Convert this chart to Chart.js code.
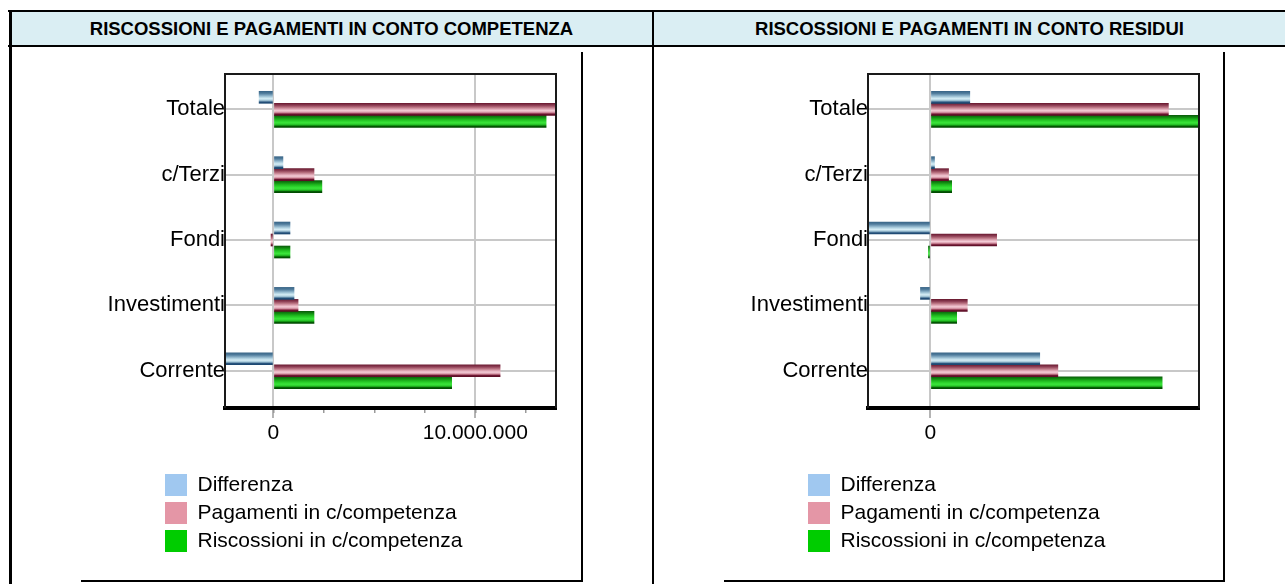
<!DOCTYPE html>
<html>
<head>
<meta charset="utf-8">
<script src="https://cdn.jsdelivr.net/npm/chart.js@4.4.1/dist/chart.umd.min.js"></script>
<style>
  html, body { margin: 0; padding: 0; background: #fff; }
  #page { position: relative; width: 1285px; height: 584px; overflow: hidden; font-family: "Liberation Sans", Arial, sans-serif; }
  .ln { position: absolute; background: #000; }
  .hdrbg { position: absolute; left: 11px; top: 12px; width: 1274px; height: 34px; background: #DAEEF3; }
  .hdr { position: absolute; top: 12px; height: 34px; line-height: 34px; text-align: center; font-weight: bold; font-size: 18.5px; color: #000; white-space: nowrap; }
  canvas { position: absolute; }
</style>
</head>
<body>
<div id="page">
  <div class="hdrbg"></div>
  <div class="hdr" style="left:11px;width:641px;">RISCOSSIONI E PAGAMENTI IN CONTO COMPETENZA</div>
  <div class="hdr" style="left:654px;width:631px;">RISCOSSIONI E PAGAMENTI IN CONTO RESIDUI</div>
  <!-- table borders -->
  <div class="ln" style="left:8px;top:10px;width:1277px;height:2px;"></div>
  <div class="ln" style="left:8px;top:45px;width:1277px;height:2px;"></div>
  <div class="ln" style="left:9px;top:10px;width:3px;height:574px;"></div>
  <div class="ln" style="left:652px;top:10px;width:2px;height:574px;"></div>
  <!-- chart object shadows -->
  <div class="ln" style="left:581px;top:52px;width:2px;height:530px;"></div>
  <div class="ln" style="left:81px;top:580px;width:502px;height:2px;"></div>
  <div class="ln" style="left:1223px;top:52px;width:2px;height:530px;"></div>
  <div class="ln" style="left:724px;top:580px;width:501px;height:2px;"></div>

  <canvas id="cComp" width="480" height="510" style="left:90px;top:56px;width:480px;height:510px;"></canvas>
  <canvas id="cRes" width="480" height="510" style="left:733px;top:56px;width:480px;height:510px;"></canvas>
</div>
<script>
// ---------- DATA ----------
const categories = ['Totale', 'c/Terzi', 'Fondi', 'Investimenti', 'Corrente'];
const seriesNames = ['Differenza', 'Pagamenti in c/competenza', 'Riscossioni in c/competenza'];

// Conto competenza
const compDifferenza   = [-710000, 470000, 820000, 1020000, -2400000];
const compPagamenti    = [14220000, 2010000, -120000, 1220000, 11230000];
const compRiscossioni  = [13510000, 2400000, 820000, 2010000, 8830000];
const compAxisMin = -2400000;
const compAxisMax = 14000000;
const compMajorTicks = [0, 10000000];
const compMajorLabels = ['0', '10.000.000'];
const compMinorTicks = [0, 2500000, 5000000, 7500000, 10000000, 12500000];

// Conto residui
const resDifferenza   = [630000, 65000, -1090000, -160000, 1750000];
const resPagamenti    = [3810000, 290000, 1060000, 590000, 2040000];
const resRiscossioni  = [4430000, 340000, -32000, 420000, 3710000];
const resAxisMin = -1000000;
const resAxisMax = 4300000;
const resMajorTicks = [0];
const resMajorLabels = ['0'];
const resMinorTicks = [];

// ---------- STYLE ----------
const FONT = '"Liberation Sans", Arial, sans-serif';
const legendColors = ['#a0c8f0', '#e496a6', '#00cc00'];
const stripeStops = [
  [[0,'#3a6688'],[0.17,'#4f7b9b'],[0.33,'#80a7c0'],[0.5,'#b6d6e4'],[0.62,'#d6edf5'],[0.75,'#a8cada'],[0.84,'#5f87a5'],[0.9,'#25507a'],[1,'#1c4870']],
  [[0,'#6c1c32'],[0.17,'#8e3f55'],[0.33,'#b8707f'],[0.5,'#e0a8b6'],[0.62,'#f4ccd6'],[0.75,'#d89aaa'],[0.84,'#a24c62'],[0.9,'#6a1530'],[1,'#5c0e25']],
  [[0,'#0b5e0b'],[0.17,'#118a11'],[0.33,'#1db51d'],[0.5,'#2dd52d'],[0.62,'#3ae43a'],[0.75,'#2ccc2c'],[0.84,'#149a14'],[0.9,'#045c04'],[1,'#004800']]
];
const BAR_T = 12;
const Y_AXIS_W = 135;
const X_AXIS_H = 60;
// category band placement inside the plot frame (start offset / visible range, in category units)
const CAT_START = -0.54;
const CAT_RANGE = 5.11;

function stripeFill(di) {
  return (c) => {
    if (c.type !== 'data') return legendColors[di];
    const chart = c.chart, ys = chart.scales.y;
    if (!chart.chartArea || !ys) return legendColors[di];
    const n = chart.data.datasets.length;
    const top = ys.getPixelForValue(c.dataIndex) - n * BAR_T / 2 + di * BAR_T;
    const g = chart.ctx.createLinearGradient(0, top, 0, top + BAR_T);
    stripeStops[di].forEach(([p, col]) => g.addColorStop(p, col));
    return g;
  };
}

const framePlugin = {
  id: 'frame',
  afterDatasetsDraw(chart) {
    const {ctx, chartArea: a} = chart;
    ctx.save();
    ctx.strokeStyle = '#1a1a1a';
    ctx.lineWidth = 2;
    ctx.beginPath();
    ctx.moveTo(a.left, a.bottom);
    ctx.lineTo(a.left, a.top);
    ctx.lineTo(a.right, a.top);
    ctx.lineTo(a.right, a.bottom);
    ctx.stroke();
    ctx.restore();
  }
};

const legendShiftPlugin = {
  id: 'legendShift',
  afterLayout(chart, args, opts) {
    const lg = chart.legend;
    if (!lg) return;
    const dx = opts.boxLeft - (lg.left + 6);
    lg.left += dx;
    lg.right += dx;
  }
};

function makeChart(id, dif, pag, ris, axisMin, axisMax, majorTicks, majorLabels, minorTicks, legendBoxLeft) {
  const series = [dif, pag, ris];
  return new Chart(document.getElementById(id), {
    type: 'bar',
    data: {
      labels: categories,
      datasets: series.map((vals, i) => ({
        label: seriesNames[i],
        data: vals,
        backgroundColor: stripeFill(i),
        borderWidth: 0,
        barThickness: BAR_T,
        clip: 0
      }))
    },
    plugins: [framePlugin, legendShiftPlugin],
    options: {
      indexAxis: 'y',
      responsive: false,
      animation: false,
      devicePixelRatio: 1,
      layout: { padding: { top: 18, right: 14, left: 0, bottom: 4 } },
      scales: {
        x: {
          type: 'linear',
          position: 'bottom',
          weight: 1,
          min: axisMin,
          max: axisMax,
          afterBuildTicks: (s) => { s.ticks = majorTicks.map(v => ({ value: v })); },
          afterFit: (s) => { s.height = X_AXIS_H; },
          ticks: {
            autoSkip: false,
            maxRotation: 0,
            color: '#000',
            padding: 3,
            font: { family: FONT, size: 21 },
            callback: (v) => { const k = majorTicks.indexOf(v); return k >= 0 ? majorLabels[k] : ''; }
          },
          grid: { color: '#c8c8c8', lineWidth: 2, tickLength: 10, tickColor: '#b4b4b4', drawTicks: true },
          border: { display: true, color: '#000', width: 4 }
        },
        xMinor: {
          type: 'linear',
          position: 'bottom',
          weight: 0,
          min: axisMin,
          max: axisMax,
          afterBuildTicks: (s) => { s.ticks = minorTicks.map(v => ({ value: v })); },
          afterFit: (s) => { s.height = 0; },
          ticks: { display: false },
          grid: { drawOnChartArea: false, drawTicks: true, tickLength: 5, tickColor: '#9a9a9a', lineWidth: 1.5 },
          border: { display: false }
        },
        y: {
          type: 'category',
          offset: true,
          afterBuildTicks: (s) => { s._startValue = CAT_START; s._valueRange = CAT_RANGE; },
          afterFit: (s) => { s.width = Y_AXIS_W; },
          ticks: { color: '#000', padding: 0, autoSkip: false, font: { family: FONT, size: 22 } },
          grid: { offset: false, color: '#c8c8c8', lineWidth: 2, drawTicks: false },
          border: { display: false }
        }
      },
      plugins: {
        title: { display: false },
        tooltip: { enabled: false },
        legendShift: { boxLeft: legendBoxLeft },
        legend: {
          display: true,
          position: 'bottom',
          align: 'start',
          fullSize: false,
          labels: {
            boxWidth: 22,
            boxHeight: 22,
            padding: 6,
            color: '#000',
            font: { family: FONT, size: 21 },
            generateLabels: (chart) =>
              Chart.defaults.plugins.legend.labels.generateLabels(chart).map((it) => ({
                ...it,
                fillStyle: legendColors[it.datasetIndex],
                strokeStyle: legendColors[it.datasetIndex],
                lineWidth: 0
              }))
          }
        }
      }
    }
  });
}

// legend box left positions in canvas coordinates (page x minus canvas left)
makeChart('cComp', compDifferenza, compPagamenti, compRiscossioni, compAxisMin, compAxisMax,
          compMajorTicks, compMajorLabels, compMinorTicks, 165 - 90);
makeChart('cRes', resDifferenza, resPagamenti, resRiscossioni, resAxisMin, resAxisMax,
          resMajorTicks, resMajorLabels, resMinorTicks, 808 - 733);
</script>
</body>
</html>
